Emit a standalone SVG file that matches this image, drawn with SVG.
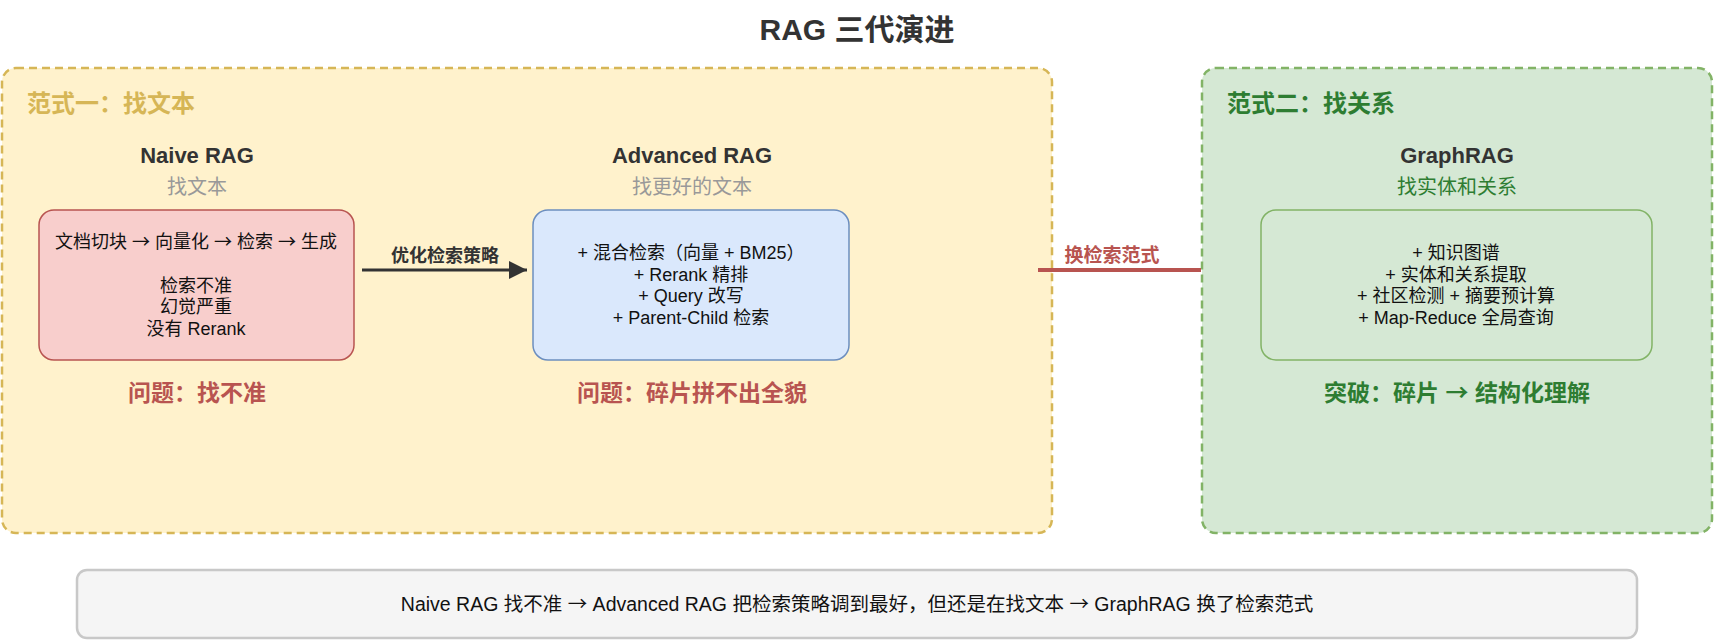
<svg xmlns="http://www.w3.org/2000/svg" width="1715" height="641" viewBox="0 0 1715 641">
  <defs>
    <marker id="arrowDark" viewBox="0 0 10 10" refX="10" refY="5" markerWidth="6" markerHeight="6" markerUnits="strokeWidth" orient="auto">
      <path d="M0,0 L10,5 L0,10 Z" fill="#333333"/>
    </marker>
    <style>
      text { font-family: "Liberation Sans", "Noto Sans CJK SC", sans-serif; }
      .arr { font-family: "Noto Sans CJK SC", sans-serif; }
      .title { font-size: 30px; font-weight: bold; fill: #333333; text-anchor: middle; }
      .group-label { font-size: 24px; font-weight: bold; }
      .node-title { font-size: 22px; font-weight: bold; fill: #333333; text-anchor: middle; }
      .node-sub { font-size: 20px; text-anchor: middle; }
      .body { font-size: 18px; fill: #111111; text-anchor: middle; }
      .summary-text { font-size: 19.5px; fill: #111111; text-anchor: middle; }
      .verdict { font-size: 23px; font-weight: bold; text-anchor: middle; }
      .edge-label { font-size: 18px; font-weight: bold; text-anchor: middle; }
      .container { stroke-width: 2.5; stroke-dasharray: 8 5; }
      .box { stroke-width: 1.5; }
    </style>
  </defs>

  <rect width="1715" height="641" fill="#ffffff"/>

  <g id="title">
    <text class="title" x="857" y="40">RAG 三代演进</text>
  </g>

  <g id="paradigm1">
    <rect class="container" x="2" y="68" width="1050" height="465" rx="14" ry="14" fill="#fff2cc" stroke="#d6b656"/>
    <text class="group-label" x="27" y="112" fill="#d6b656">范式一：找文本</text>
  </g>

  <g id="paradigm2">
    <rect class="container" x="1202" y="68" width="510" height="465" rx="14" ry="14" fill="#d5e8d4" stroke="#82b366"/>
    <text class="group-label" x="1227" y="112" fill="#2e7d32">范式二：找关系</text>
  </g>

  <g id="naive-rag">
    <text class="node-title" x="197" y="163">Naive RAG</text>
    <text class="node-sub" x="197" y="194" fill="#999999">找文本</text>
    <rect class="box" x="39" y="210" width="315" height="150" rx="15" ry="15" fill="#f8cecc" stroke="#b85450"/>
    <text class="body" x="196" y="248">文档切块 <tspan class="arr">→</tspan> 向量化 <tspan class="arr">→</tspan> 检索 <tspan class="arr">→</tspan> 生成</text>
    <text class="body" x="196" y="292">检索不准</text>
    <text class="body" x="196" y="313">幻觉严重</text>
    <text class="body" x="196" y="335">没有 Rerank</text>
    <text class="verdict" x="197" y="401" fill="#b85450">问题：找不准</text>
  </g>

  <g id="advanced-rag">
    <text class="node-title" x="692" y="163">Advanced RAG</text>
    <text class="node-sub" x="692" y="194" fill="#999999">找更好的文本</text>
    <rect class="box" x="533" y="210" width="316" height="150" rx="15" ry="15" fill="#dae8fc" stroke="#6c8ebf"/>
    <text class="body" x="691" y="259">+ 混合检索（向量 + BM25）</text>
    <text class="body" x="691" y="281">+ Rerank 精排</text>
    <text class="body" x="691" y="302">+ Query 改写</text>
    <text class="body" x="691" y="324">+ Parent-Child 检索</text>
    <text class="verdict" x="692" y="401" fill="#b85450">问题：碎片拼不出全貌</text>
  </g>

  <g id="graphrag">
    <text class="node-title" x="1457" y="163">GraphRAG</text>
    <text class="node-sub" x="1457" y="194" fill="#2e7d32">找实体和关系</text>
    <rect class="box" x="1261" y="210" width="391" height="150" rx="15" ry="15" fill="#d5e8d4" stroke="#82b366"/>
    <text class="body" x="1456" y="259">+ 知识图谱</text>
    <text class="body" x="1456" y="281">+ 实体和关系提取</text>
    <text class="body" x="1456" y="302">+ 社区检测 + 摘要预计算</text>
    <text class="body" x="1456" y="324">+ Map-Reduce 全局查询</text>
    <text class="verdict" x="1457" y="401" fill="#2e7d32">突破：碎片 <tspan class="arr">→</tspan> 结构化理解</text>
  </g>

  <g id="summary">
    <rect x="77" y="570" width="1560" height="68" rx="10" ry="10" fill="#f5f5f5" stroke="#c8c8c8" stroke-width="2.5"/>
    <text class="summary-text" x="857" y="611">Naive RAG 找不准 <tspan class="arr">→</tspan> Advanced RAG 把检索策略调到最好，但还是在找文本 <tspan class="arr">→</tspan> GraphRAG 换了检索范式</text>
  </g>

  <g id="connectors">
    <g id="edge-optimize">
      <line x1="362" y1="270" x2="527" y2="270" stroke="#333333" stroke-width="3" marker-end="url(#arrowDark)"/>
      <text class="edge-label" x="445" y="262" fill="#333333">优化检索策略</text>
    </g>
    <g id="edge-paradigm">
      <line x1="1038" y1="270" x2="1201" y2="270" stroke="#b85450" stroke-width="4"/>
      <text class="edge-label" x="1112" y="262" fill="#b85450" style="font-size:19px">换检索范式</text>
    </g>
  </g>
</svg>
